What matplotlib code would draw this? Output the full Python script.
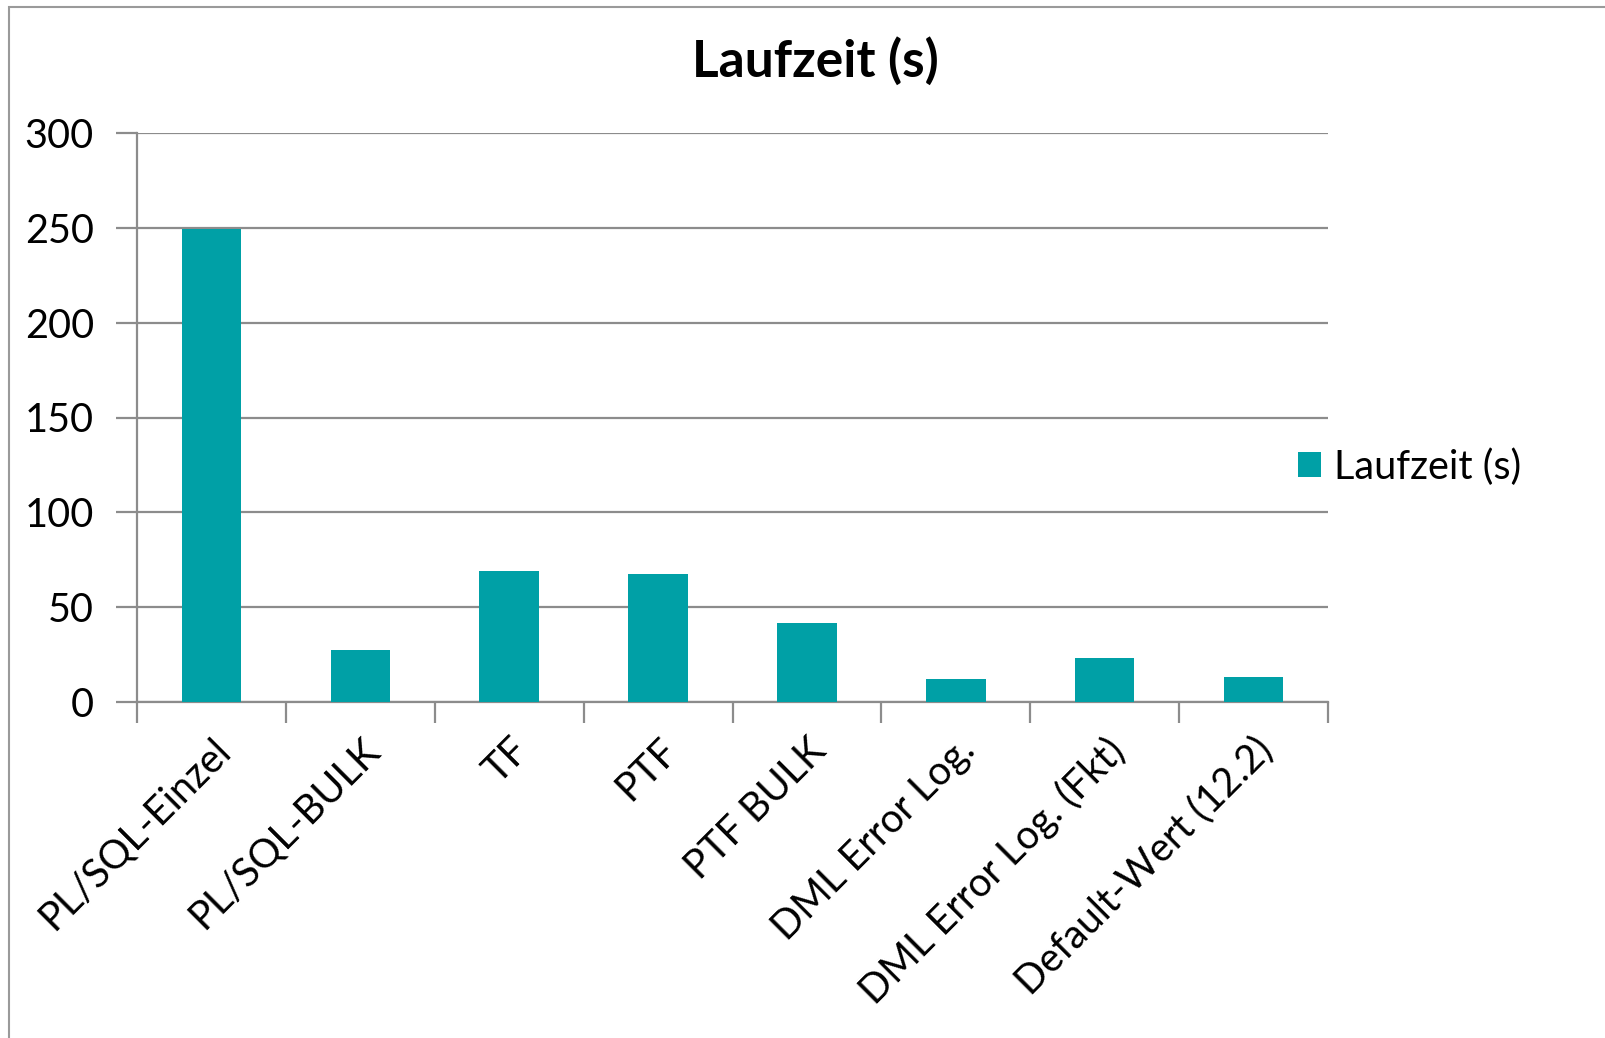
import matplotlib.pyplot as plt
from matplotlib.patches import Patch, Rectangle

categories = ['PL/SQL-Einzel', 'PL/SQL-BULK', 'TF', 'PTF', 'PTF BULK',
              'DML Error Log.', 'DML Error Log. (Fkt)', 'Default-Wert (12.2)']
laufzeit = [249.6, 27.6, 69, 67.6, 41.8, 12.3, 23, 13]
yticks = [0, 50, 100, 150, 200, 250, 300]

plt.rcParams['font.family'] = ['Lato', 'DejaVu Sans']
bar_color = '#00A0A6'
grid_color = '#8C8C8C'
fs = 28.5

W, H = 1605, 1038
fig = plt.figure(figsize=(W / 100, H / 100), dpi=100)
ax = fig.add_axes([137 / W, 1 - 702 / H, (1328 - 137) / W, (702 - 133) / H])

x = list(range(len(categories)))
ax.bar(x, laufzeit, width=0.4, color=bar_color, zorder=3, label='Laufzeit (s)')

ax.set_xlim(-0.5, len(categories) - 0.5)
ax.set_ylim(0, 300)
ax.set_yticks(yticks)
ax.set_yticklabels([str(v) for v in yticks], fontsize=fs)
ax.yaxis.grid(True, color=grid_color, linewidth=1.6, zorder=0)

# category ticks sit between bars, labels at bar centres
ax.set_xticks([i - 0.5 for i in range(len(categories) + 1)])
ax.set_xticklabels([])
ax.set_xticks(x, minor=True)
ax.set_xticklabels(categories, minor=True, rotation=45, ha='right',
                   rotation_mode='anchor', fontsize=fs)
ax.tick_params(axis='x', which='minor', length=0, pad=21)
ax.tick_params(axis='x', which='major', length=15, width=1.6, color=grid_color)
ax.tick_params(axis='y', length=15, width=1.6, color=grid_color, pad=16)

for side in ['top', 'right']:
    ax.spines[side].set_visible(False)
for side in ['left', 'bottom']:
    ax.spines[side].set_color(grid_color)
    ax.spines[side].set_linewidth(1.6)

fig.text(815 / W, 1 - 61 / H, 'Laufzeit (s)', ha='center', va='center',
         fontsize=37, fontweight='bold')

handle = Patch(facecolor=bar_color, edgecolor='none')
fig.legend([handle], ['Laufzeit (s)'], loc='center left',
           bbox_to_anchor=(1262 / W, 1 - 467 / H), frameon=False,
           fontsize=fs, handlelength=0.6, handleheight=0.6, handletextpad=0.32)

# outer chart border
fig.patches.append(Rectangle((9 / W, -0.1), 1.2, 1 - 7 / H + 0.1,
                             transform=fig.transFigure, fill=False,
                             edgecolor='#9A9A9A', linewidth=1.5))

fig.savefig('out.png', dpi=100)
